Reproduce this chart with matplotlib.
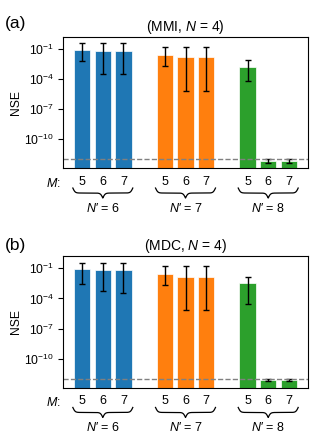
import numpy as np
import matplotlib
matplotlib.use('Agg')
import matplotlib.pyplot as plt
from matplotlib.transforms import blended_transform_factory

plt.rcParams['font.family'] = ['Liberation Sans', 'DejaVu Sans']
plt.rcParams['mathtext.fontset'] = 'custom'
plt.rcParams['mathtext.rm'] = 'Liberation Sans'
plt.rcParams['mathtext.it'] = 'Liberation Sans:italic'
plt.rcParams['mathtext.bf'] = 'Liberation Sans:bold'

# ---------------- data ----------------
n_primes = [6, 7, 8]
m_values = [5, 6, 7]
group_colors = ['#1f77b4', '#ff7f0e', '#2ca02c']
threshold = 1e-12
yticks = [1e-1, 1e-4, 1e-7, 1e-10]

mmi_nse = [0.08, 0.063, 0.063, 0.024, 0.015, 0.015, 0.0017, 7.0e-13, 7.0e-13]
mmi_low = [0.0062, 3.0e-4, 3.0e-4, 0.002, 6.5e-6, 6.5e-6, 6.5e-5, 4.4e-13, 4.4e-13]
mmi_high = [0.36, 0.36, 0.36, 0.16, 0.16, 0.16, 0.0078, 1.05e-12, 1.05e-12]

mdc_nse = [0.08, 0.063, 0.063, 0.03, 0.015, 0.015, 0.0031, 7.9e-13, 7.9e-13]
mdc_low = [0.0029, 5.9e-4, 3.2e-4, 0.0021, 6.8e-6, 6.5e-6, 3.0e-5, 5.8e-13, 5.8e-13]
mdc_high = [0.35, 0.35, 0.35, 0.18, 0.16, 0.16, 0.015, 1.05e-12, 1.05e-12]

# ---------------- layout ----------------
W, H = 327, 440
fig = plt.figure(figsize=(W / 100, H / 100), dpi=100)


def rect(left, top, right, bottom):
    return [left / W, 1 - bottom / H, (right - left) / W, (bottom - top) / H]


def brace(ax, x0, x1, y_top, height, beta=18.0, **kw):
    xs = np.linspace(x0, x1, 401)
    half = xs[:201]
    yh = (1 / (1 + np.exp(-beta * (half - half[0])))
          + 1 / (1 + np.exp(-beta * (half - half[-1]))))
    yh = yh - 0.5
    y = np.concatenate((yh, yh[-2::-1]))
    tr = blended_transform_factory(ax.transData, ax.transAxes)
    ax.plot(xs, y_top - y * height, transform=tr, clip_on=False, **kw)


def draw(ax, vals, low, high, title):
    ng, nm = len(n_primes), len(m_values)
    x = [g * (nm + 1) + i for g in range(ng) for i in range(nm)]
    cols = [group_colors[g] for g in range(ng) for i in range(nm)]
    vals = np.asarray(vals)
    yerr = [vals - np.asarray(low), np.asarray(high) - vals]
    ax.set_yscale('log')
    ax.bar(x, vals, width=0.8, color=cols, edgecolor='white', linewidth=0.5,
           yerr=yerr, capsize=2.5,
           error_kw=dict(ecolor='black', elinewidth=1.0, capthick=1.0))
    ax.axhline(threshold, color='gray', ls='--', lw=1.0)
    ax.set_ylim(10 ** -12.89, 10 ** 0.23)
    ax.set_xlim(x[0] - 0.94, x[-1] + 0.94)
    ax.set_yticks(yticks)
    ax.minorticks_off()
    ax.tick_params(axis='y', labelsize=8.7, length=3.5, width=0.8, pad=3)
    ax.set_xticks(x)
    ax.set_xticklabels([str(m) for g in n_primes for m in m_values])
    ax.tick_params(axis='x', labelsize=9, length=0, pad=5.5)
    ax.set_ylabel('NSE', fontsize=8.7)
    ax.yaxis.set_label_coords(-0.166, 0.5)
    ax.set_title(title, fontsize=10, pad=4.2)
    tr = blended_transform_factory(ax.transData, ax.transAxes)
    for g, npv in enumerate(n_primes):
        xs = x[g * nm:(g + 1) * nm]
        brace(ax, xs[0] - 0.45, xs[-1] + 0.45, -0.150, 0.076,
              color='black', lw=0.9)
        ax.text((xs[0] + xs[-1]) / 2, -0.330, "$N$\u2032 = %d" % npv,
                transform=tr, ha='center', va='baseline', fontsize=9)
    ax.text(-0.01, -0.140, '$M$:', transform=ax.transAxes, ha='right',
            va='baseline', fontsize=9)


ax_a = fig.add_axes(rect(62.7, 36.7, 308.3, 168.3))
ax_b = fig.add_axes(rect(62.7, 256.0, 308.3, 387.7))
draw(ax_a, mmi_nse, mmi_low, mmi_high, '(MMI, $N$ = 4)')
draw(ax_b, mdc_nse, mdc_low, mdc_high, '(MDC, $N$ = 4)')

fig.text(5 / W, 1 - 28 / H, '(a)', fontsize=12.5, ha='left', va='baseline')
fig.text(5 / W, 1 - 249.5 / H, '(b)', fontsize=12.5, ha='left', va='baseline')

fig.savefig('out.png', dpi=100)
